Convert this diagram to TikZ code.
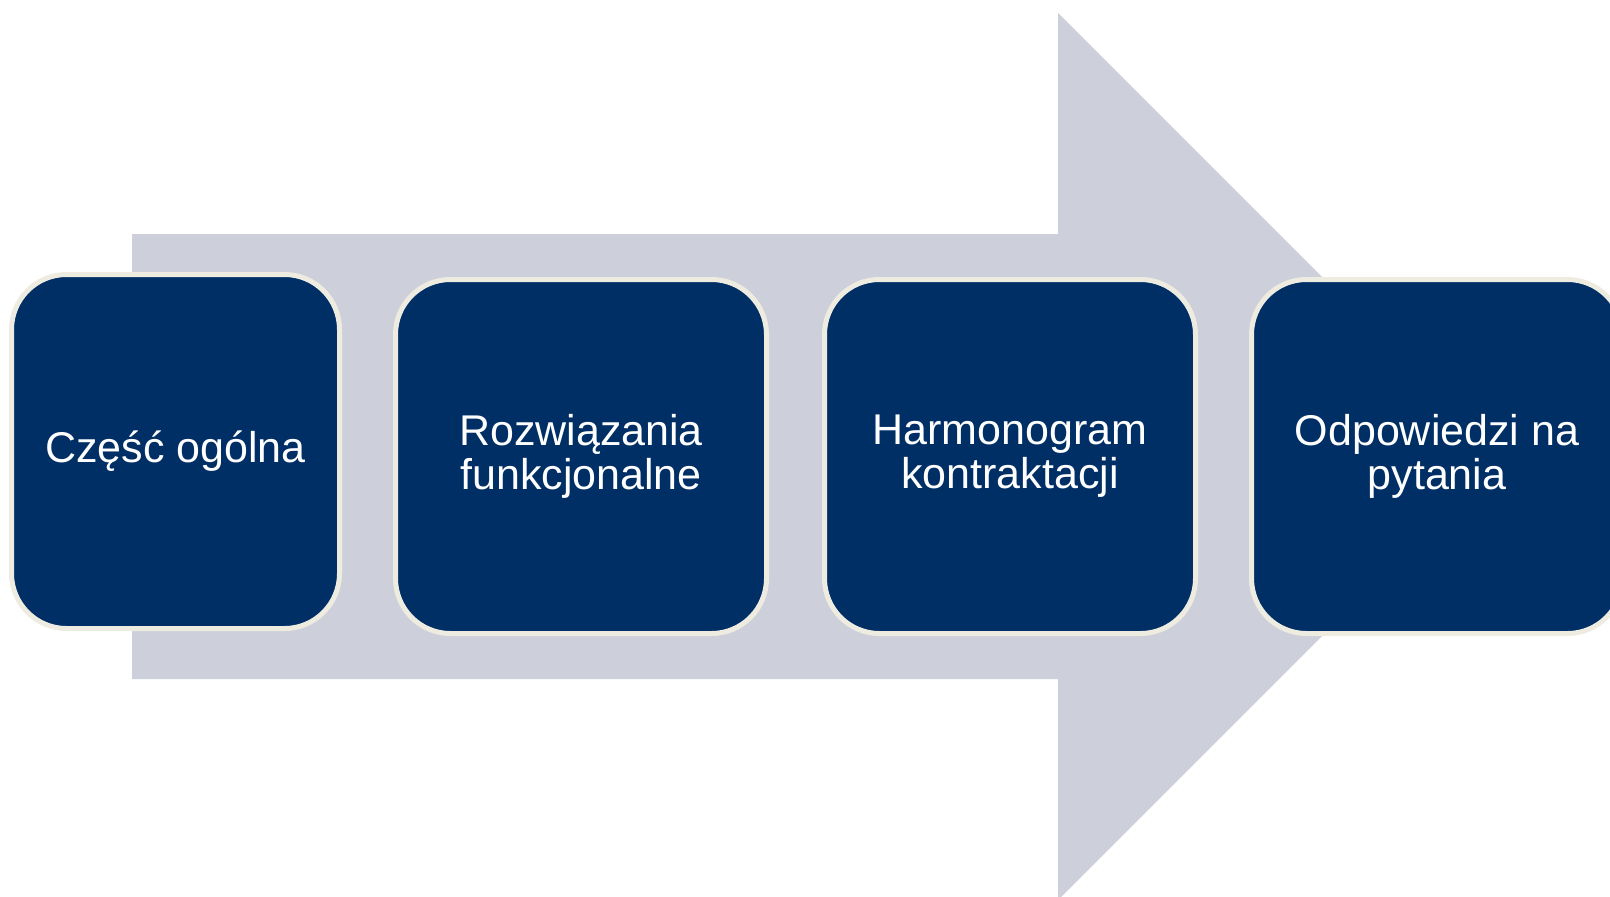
\documentclass[tikz,border=0pt]{standalone}
\usepackage{fontspec}
\setmainfont{Liberation Sans}
\usepackage{tikz}

\definecolor{navy}{HTML}{002F66}
\definecolor{arrowgrey}{HTML}{CDD0DA}
\definecolor{boxline}{HTML}{EEECE1}

\begin{document}
\begin{tikzpicture}
[x=1pt, y=-1pt,
  stage/.style={draw=boxline, line width=5pt, fill=navy, rounded corners=55pt,
    text=white, align=center, inner sep=0pt,
    minimum width=371pt, minimum height=354pt,
    font=\fontsize{43}{44}\selectfont}]
  \useasboundingbox (0,0) rectangle (1610,897);
  \clip (0,0) rectangle (1610,897);
  % big arrow behind the boxes
  \fill[arrowgrey] (132,234) -- (1058,234) -- (1058,13) -- (1501.5,456.5)
    -- (1058,900) -- (1058,679) -- (132,679) -- cycle;
  \node[stage, minimum width=328pt] (ogolna) at (175.5,451.5) {Część ogólna};
  \node[stage] (rozwiazania) at (581,456.5) {Rozwiązania\\funkcjonalne};
  \node[stage] (harmonogram) at (1010,456.5) {Harmonogram\\kontraktacji};
  \node[stage] (odpowiedzi) at (1437,456.5) {Odpowiedzi na\\pytania};
\end{tikzpicture}
\end{document}
